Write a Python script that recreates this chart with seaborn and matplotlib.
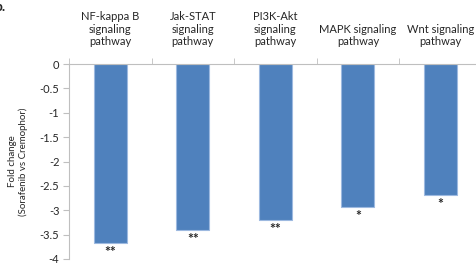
import numpy as np
import pandas as pd
import matplotlib
matplotlib.use("Agg")
import matplotlib.pyplot as plt
import seaborn as sns

pathways = ["NF-kappa B\nsignaling\npathway", "Jak-STAT\nsignaling\npathway",
            "PI3K-Akt\nsignaling\npathway", "MAPK signaling\npathway",
            "Wnt signaling\npathway"]
fold_change = [-3.67, -3.41, -3.21, -2.93, -2.69]
stars = ["**", "**", "**", "*", "*"]

df = pd.DataFrame({"pathway": pathways, "fold": fold_change})

sns.set_style("white")
plt.rcParams["font.family"] = ["Lato", "DejaVu Sans"]

fig = plt.figure(figsize=(4.76, 2.67), dpi=100)
ax = fig.add_axes([0.145, 0.030, 0.867, 0.730])

sns.barplot(data=df, x="pathway", y="fold", color="#4F81BD", width=0.4,
            edgecolor="#9DB9E0", linewidth=0.8, saturation=1, ax=ax)

for i, (v, s) in enumerate(zip(fold_change, stars)):
    ax.annotate(s, (i, v), xytext=(0, -2), textcoords="offset points",
                ha="center", va="top", fontsize=10, fontweight="bold")

ax.set_ylim(-4, 0)
ax.set_xlim(-0.5, 4.5)
ax.set_yticks(np.arange(-4, 0.01, 0.5))
ax.set_yticklabels(["-4", "-3.5", "-3", "-2.5", "-2", "-1.5", "-1", "-0.5", "0"])

ax.xaxis.tick_top()
ax.set_xticks(range(len(pathways)))
ax.set_xticklabels(pathways, linespacing=1.25)
ax.set_xticks(np.arange(-0.5, 5, 1), minor=True)
ax.tick_params(axis="x", which="major", length=0, pad=12, labelsize=8)
ax.tick_params(axis="x", which="minor", length=4, color="#BFBFBF", direction="out", top=True, bottom=False)
ax.tick_params(axis="y", which="major", length=4, color="#BFBFBF", direction="out", left=True, labelsize=8, pad=3)

for side in ["right", "bottom"]:
    ax.spines[side].set_visible(False)
ax.spines["top"].set_color("#BFBFBF")
ax.spines["left"].set_color("#BFBFBF")
ax.spines["top"].set_position(("data", 0))

ax.set_xlabel("")
ax.set_ylabel("Fold change\n(Sorafenib vs Cremophor)", fontsize=7, labelpad=8)

fig.text(-0.012, 0.995, "b.", fontsize=10, fontweight="bold", va="top", ha="left")

fig.savefig("out.png", dpi=100)
